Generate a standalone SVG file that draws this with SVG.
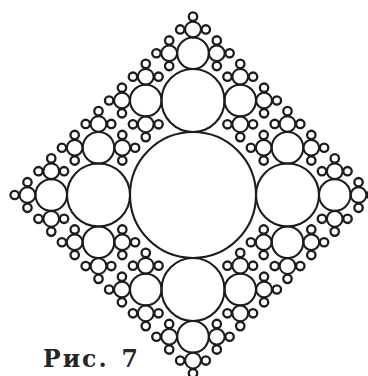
<svg xmlns="http://www.w3.org/2000/svg" xmlns:xlink="http://www.w3.org/1999/xlink" width="368" height="376" viewBox="0 0 368 376">
<style>
circle { fill: none; stroke: #1c1c1c; stroke-width: 2.1; }
.tiny { stroke-width: 2.3; }
.cap { font-family: "DejaVu Serif", "Liberation Serif", serif; font-weight: bold; font-size: 23.5px; fill: #262626; }
</style>
<defs>
<g id="b4"><circle class="tiny" r="4.2"/></g>
<g id="b3"><circle r="7.875"/>
<use href="#b4" transform="translate(0,-12.8)"/>
<use href="#b4" transform="translate(-12.8,0)"/>
<use href="#b4" transform="translate(12.8,0)"/>
</g>
<g id="b2"><circle r="15.75"/>
<use href="#b3" transform="translate(0,-23.8)"/>
<use href="#b3" transform="translate(-23.8,0) rotate(-90)"/>
<use href="#b3" transform="translate(23.8,0) rotate(90)"/>
</g>
<g id="b1"><circle r="31.5"/>
<use href="#b2" transform="translate(0,-47.25)"/>
<use href="#b2" transform="translate(-47.25,0) rotate(-90)"/>
<use href="#b2" transform="translate(47.25,0) rotate(90)"/>
</g>
</defs>
<rect width="368" height="376" fill="#ffffff"/>
<g id="fractal">
<circle cx="193" cy="195" r="63"/>
<use href="#b1" transform="translate(193,100.5)"/>
<use href="#b1" transform="translate(287.5,195) rotate(90)"/>
<use href="#b1" transform="translate(193,289.5) rotate(180)"/>
<use href="#b1" transform="translate(98.5,195) rotate(-90)"/>
</g>
<text class="cap" x="43" y="367" letter-spacing="2">Рис.<tspan x="121.5" letter-spacing="0">7</tspan></text>
</svg>
